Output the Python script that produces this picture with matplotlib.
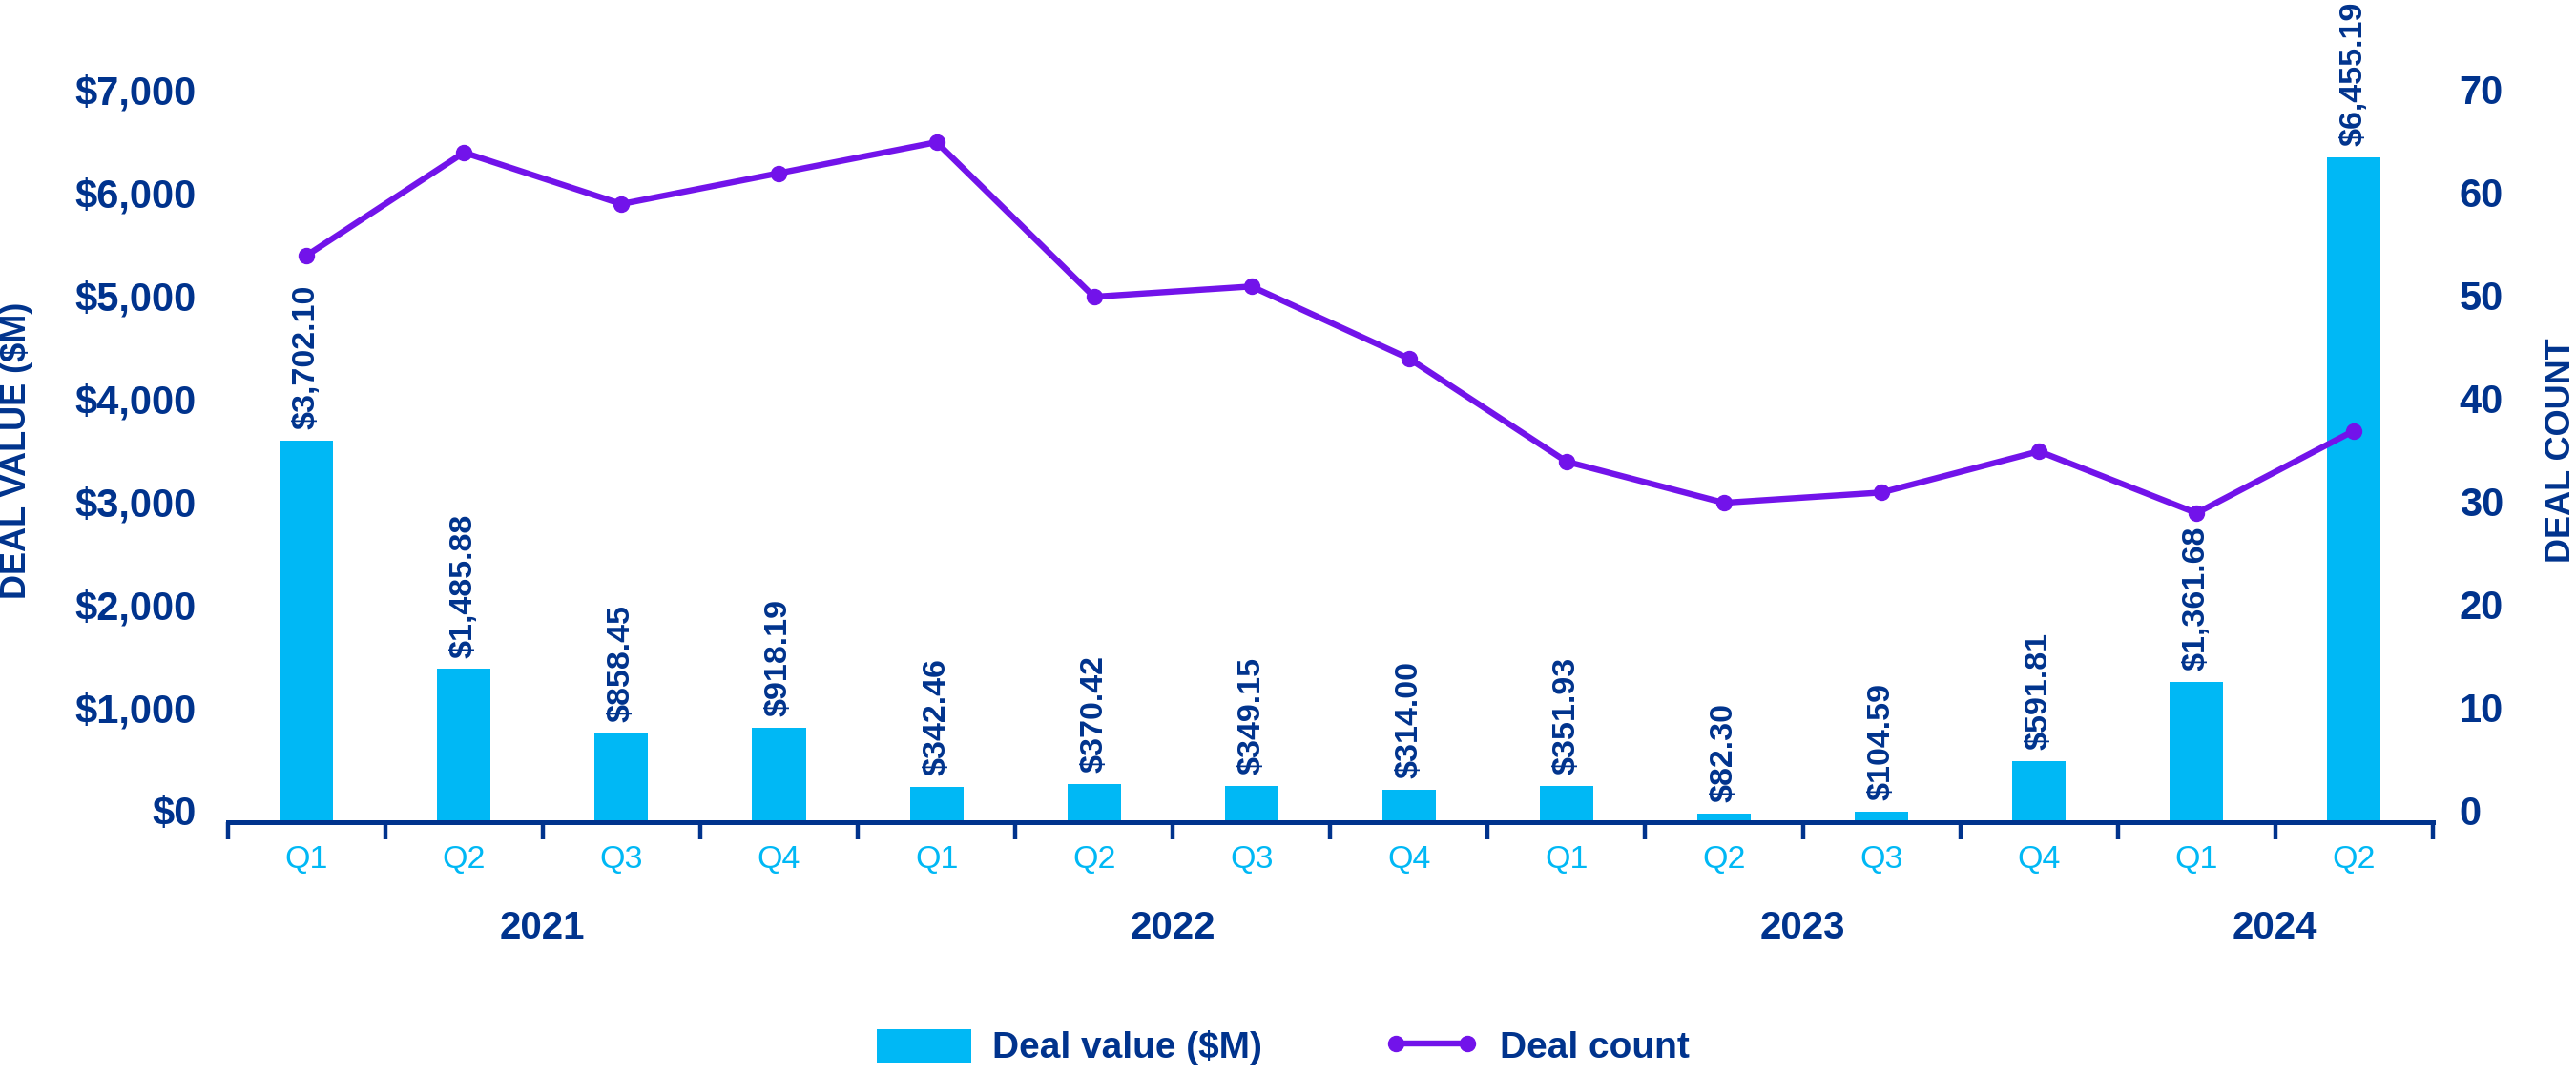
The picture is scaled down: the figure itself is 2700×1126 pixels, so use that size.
import matplotlib
matplotlib.use("Agg")

import numpy as np
import matplotlib.pyplot as plt
import matplotlib.transforms as mtransforms
from matplotlib.lines import Line2D
from matplotlib.patches import Patch

# data
quarters = ["Q1", "Q2", "Q3", "Q4", "Q1", "Q2", "Q3", "Q4",
            "Q1", "Q2", "Q3", "Q4", "Q1", "Q2"]
quarter_year = ["2021"] * 4 + ["2022"] * 4 + ["2023"] * 4 + ["2024"] * 2
years = ["2021", "2022", "2023", "2024"]
deal_value = [3702.10, 1485.88, 858.45, 918.19, 342.46, 370.42, 349.15,
              314.00, 351.93, 82.30, 104.59, 591.81, 1361.68, 6455.19]
deal_count = [55, 65, 60, 63, 66, 51, 52, 45, 35, 31, 32, 36, 30, 38]
value_ticks = [0, 1000, 2000, 3000, 4000, 5000, 6000, 7000]
count_ticks = [0, 10, 20, 30, 40, 50, 60, 70]

NAVY = "#00338D"
CYAN = "#00B8F5"
PURPLE = "#7213EA"

plt.rcParams["font.family"] = ["Liberation Sans", "DejaVu Sans"]

fig = plt.figure(figsize=(27, 11.26), dpi=100)
ax = fig.add_axes([0.0884, 0.2345, 0.8560, 0.7123])
ax2 = ax.twinx()

x = np.arange(len(quarters))

ax.bar(x, deal_value, width=0.34, color=CYAN, zorder=2)
ax2.plot(x, deal_count, color=PURPLE, lw=4.6, marker="o", ms=11.5, zorder=3)

ax.set_xlim(-0.5, len(quarters) - 0.5)
ax.set_ylim(0, 7426)
ax2.set_ylim(0, 74.26)

for a in (ax, ax2):
    for side in ("top", "right", "left", "bottom"):
        a.spines[side].set_visible(False)
ax.spines["bottom"].set_visible(True)
ax.spines["bottom"].set_color(NAVY)
ax.spines["bottom"].set_linewidth(3.6)

# quarter labels under the axis, boundary ticks as minor ticks
ax.set_xticks(x, quarters)
ax.set_xticks(np.arange(-0.5, len(quarters), 1), minor=True)
ax.tick_params(axis="x", which="major", length=0, pad=17,
               labelsize=24.5, labelcolor=CYAN)
ax.tick_params(axis="x", which="minor", length=12.6, width=3.2,
               color=NAVY, direction="out")

ax.set_yticks(value_ticks, [f"${v:,}" for v in value_ticks])
ax.tick_params(axis="y", length=0, pad=23.8, labelsize=30, labelcolor=NAVY)
ax2.set_yticks(count_ticks, [str(c) for c in count_ticks])
ax2.tick_params(axis="y", length=0, pad=20, labelsize=30, labelcolor=NAVY)

# value labels sit slightly above their gridline position in the original
shift = mtransforms.ScaledTranslation(0, 0.12, fig.dpi_scale_trans)
for lab in ax.get_yticklabels() + ax2.get_yticklabels():
    lab.set_fontweight("bold")
    lab.set_transform(lab.get_transform() + shift)

# bar value labels
for xi, v in zip(x, deal_value):
    ax.annotate(f"${v:,.2f}", (xi, v), xytext=(0, 8.6),
                textcoords="offset points", rotation=90,
                ha="center", va="bottom", fontsize=24.5,
                fontweight="bold", color=NAVY)

# year labels centred under their quarters
trans = mtransforms.blended_transform_factory(ax.transData, fig.transFigure)
qy = np.array(quarter_year)
for yr in years:
    center = x[qy == yr].mean()
    ax.text(center, 0.1258, yr, transform=trans, ha="center",
            va="baseline", fontsize=29, fontweight="bold", color=NAVY)

fig.text(17.5 / 2700, 1 - 472 / 1126, "DEAL VALUE ($M)", rotation=90,
         ha="center", va="center", fontsize=26, fontweight="bold",
         color=NAVY)
fig.text(2684 / 2700, 1 - 472 / 1126, "DEAL COUNT", rotation=90,
         ha="center", va="center", fontsize=26, fontweight="bold",
         color=NAVY)

handles = [
    Patch(facecolor=CYAN, edgecolor="none", label="Deal value ($M)"),
    Line2D([], [], color=PURPLE, lw=4.6, marker="o", ms=11.5,
           label="Deal count"),
]
fig.legend(handles=handles, loc="center left",
           bbox_to_anchor=(919 / 2700, 1 - 1098 / 1126), ncol=2,
           frameon=False, borderpad=0, borderaxespad=0,
           handlelength=2.54, handleheight=1.02, handletextpad=0.57,
           columnspacing=3.3, numpoints=2,
           prop={"size": 28, "weight": "bold"}, labelcolor=NAVY)

fig.savefig("out.png", dpi=100)
